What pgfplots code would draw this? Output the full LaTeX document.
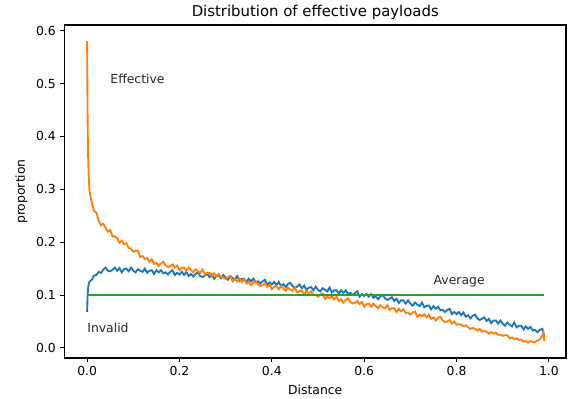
\documentclass[border=0pt]{standalone}
\usepackage{pgfplots}
\pgfplotsset{compat=1.18}
\usepackage{fontspec}
\setmainfont{DejaVu Sans}
\definecolor{mblue}{HTML}{1F77B4}
\definecolor{morange}{HTML}{FF7F0E}
\definecolor{mgreen}{HTML}{2CA02C}
\begin{document}
\begin{tikzpicture}
\useasboundingbox (-52pt,-32.3pt) rectangle (406pt,288.7pt);
\begin{axis}[
  name=ax, at={(0,0)}, anchor=south west,
  scale only axis, width=404.4pt, height=268.5pt,
  xmin=-0.049, xmax=1.037, ymin=-0.019, ymax=0.6105,
  axis lines=box,
  xtick={0,0.2,0.4,0.6,0.8,1.0},
  ytick={0,0.1,0.2,0.3,0.4,0.5,0.6},
  xticklabel style={/pgf/number format/.cd,fixed,fixed zerofill,precision=1},
  yticklabel style={/pgf/number format/.cd,fixed,fixed zerofill,precision=1},
  /pgf/number format/assume math mode=true,
  tick label style={font=\fontsize{10}{12}\selectfont},
  label style={font=\fontsize{10}{12}\selectfont},
  title style={font=\fontsize{12}{14}\selectfont, yshift=-5pt},
  title={Distribution of effective payloads},
  xlabel={Distance}, ylabel={proportion},
  tick align=outside, xtick pos=bottom, ytick pos=left,
  major tick length=3.5pt,
  every tick/.style={black, line width=0.8pt},
  axis line style={black, line width=0.9pt},
  clip=true,
]
% blue (Invalid)
\addplot[mblue, line width=1.5pt] coordinates {
(0,0.068)(0.001,0.098)(0.002,0.112)(0.003,0.118)
(0.005,0.125)(0.010,0.129)(0.015,0.137)(0.020,0.138)(0.025,0.144)(0.030,0.142)(0.035,0.148)(0.040,0.152)(0.045,0.146)(0.050,0.145)
(0.055,0.148)(0.060,0.152)(0.065,0.146)(0.070,0.151)(0.075,0.143)(0.080,0.149)(0.085,0.150)(0.090,0.145)(0.095,0.152)(0.100,0.146)
(0.105,0.143)(0.110,0.149)(0.115,0.146)(0.120,0.144)(0.125,0.150)(0.130,0.142)(0.135,0.146)(0.140,0.147)(0.145,0.140)(0.150,0.147)
(0.155,0.143)(0.160,0.147)(0.165,0.141)(0.170,0.143)(0.175,0.139)(0.180,0.144)(0.185,0.147)(0.190,0.138)(0.195,0.142)(0.200,0.139)
(0.205,0.144)(0.210,0.138)(0.215,0.144)(0.220,0.136)(0.225,0.140)(0.230,0.135)(0.235,0.140)(0.240,0.143)(0.245,0.136)(0.250,0.134)
(0.255,0.137)(0.260,0.140)(0.265,0.134)(0.270,0.139)(0.275,0.131)(0.280,0.136)(0.285,0.137)(0.290,0.132)(0.295,0.138)(0.300,0.133)
(0.305,0.129)(0.310,0.136)(0.315,0.132)(0.320,0.130)(0.325,0.136)(0.330,0.127)(0.335,0.131)(0.340,0.131)(0.345,0.125)(0.350,0.131)
(0.355,0.126)(0.360,0.131)(0.365,0.124)(0.370,0.126)(0.375,0.122)(0.380,0.126)(0.385,0.129)(0.390,0.119)(0.395,0.124)(0.400,0.120)
(0.405,0.125)(0.410,0.119)(0.415,0.125)(0.420,0.117)(0.425,0.121)(0.430,0.115)(0.435,0.121)(0.440,0.123)(0.445,0.117)(0.450,0.114)
(0.455,0.116)(0.460,0.120)(0.465,0.113)(0.470,0.118)(0.475,0.109)(0.480,0.114)(0.485,0.115)(0.490,0.109)(0.495,0.116)(0.500,0.110)
(0.505,0.107)(0.510,0.113)(0.515,0.110)(0.520,0.107)(0.525,0.114)(0.530,0.105)(0.535,0.109)(0.540,0.109)(0.545,0.103)(0.550,0.109)
(0.555,0.104)(0.560,0.109)(0.565,0.102)(0.570,0.104)(0.575,0.100)(0.580,0.104)(0.585,0.107)(0.590,0.097)(0.595,0.102)(0.600,0.098)
(0.605,0.102)(0.610,0.097)(0.615,0.102)(0.620,0.095)(0.625,0.098)(0.630,0.092)(0.635,0.098)(0.640,0.100)(0.645,0.094)(0.650,0.091)
(0.655,0.093)(0.660,0.096)(0.665,0.089)(0.670,0.093)(0.675,0.085)(0.680,0.090)(0.685,0.090)(0.690,0.084)(0.695,0.090)(0.700,0.084)
(0.705,0.080)(0.710,0.086)(0.715,0.082)(0.720,0.079)(0.725,0.086)(0.730,0.077)(0.735,0.080)(0.740,0.080)(0.745,0.073)(0.750,0.079)
(0.755,0.074)(0.760,0.078)(0.765,0.071)(0.770,0.072)(0.775,0.068)(0.780,0.072)(0.785,0.074)(0.790,0.064)(0.795,0.068)(0.800,0.064)
(0.805,0.068)(0.810,0.062)(0.815,0.067)(0.820,0.059)(0.825,0.062)(0.830,0.056)(0.835,0.061)(0.840,0.063)(0.845,0.056)(0.850,0.053)
(0.855,0.055)(0.860,0.058)(0.865,0.051)(0.870,0.055)(0.875,0.047)(0.880,0.052)(0.885,0.052)(0.890,0.046)(0.895,0.052)(0.900,0.046)
(0.905,0.042)(0.910,0.048)(0.915,0.044)(0.920,0.041)(0.925,0.048)(0.930,0.039)(0.935,0.042)(0.940,0.042)(0.945,0.035)(0.950,0.041)
(0.955,0.036)(0.960,0.040)(0.965,0.033)(0.970,0.034)(0.975,0.030)(0.980,0.034)(0.985,0.036)(0.988,0.030)(0.990,0.022)
};
% orange (Effective)
\addplot[morange, line width=1.5pt] coordinates {
(0,0.58)(0.0005,0.50)(0.001,0.44)(0.0015,0.40)(0.002,0.37)(0.003,0.335)(0.004,0.315)(0.005,0.30)(0.0065,0.29)(0.008,0.283)(0.010,0.275)
(0.015,0.259)(0.020,0.256)(0.025,0.241)(0.030,0.232)(0.035,0.235)(0.040,0.227)(0.045,0.220)(0.050,0.223)(0.055,0.211)(0.060,0.211)
(0.065,0.208)(0.070,0.199)(0.075,0.203)(0.080,0.196)(0.085,0.198)(0.090,0.189)(0.095,0.188)(0.100,0.182)(0.105,0.184)(0.110,0.184)
(0.115,0.172)(0.120,0.174)(0.125,0.168)(0.130,0.170)(0.135,0.163)(0.140,0.168)(0.145,0.159)(0.150,0.161)(0.155,0.155)(0.160,0.160)
(0.165,0.163)(0.170,0.156)(0.175,0.153)(0.180,0.155)(0.185,0.158)(0.190,0.152)(0.195,0.156)(0.200,0.147)(0.205,0.152)(0.210,0.152)
(0.215,0.146)(0.220,0.152)(0.225,0.147)(0.230,0.143)(0.235,0.149)(0.240,0.145)(0.245,0.142)(0.250,0.148)(0.255,0.139)(0.260,0.142)
(0.265,0.142)(0.270,0.135)(0.275,0.141)(0.280,0.136)(0.285,0.140)(0.290,0.133)(0.295,0.134)(0.300,0.130)(0.305,0.134)(0.310,0.136)
(0.315,0.126)(0.320,0.130)(0.325,0.126)(0.330,0.131)(0.335,0.125)(0.340,0.130)(0.345,0.122)(0.350,0.125)(0.355,0.119)(0.360,0.124)
(0.365,0.127)(0.370,0.120)(0.375,0.117)(0.380,0.119)(0.385,0.122)(0.390,0.116)(0.395,0.120)(0.400,0.111)(0.405,0.116)(0.410,0.117)
(0.415,0.111)(0.420,0.117)(0.425,0.112)(0.430,0.108)(0.435,0.114)(0.440,0.110)(0.445,0.108)(0.450,0.114)(0.455,0.105)(0.460,0.108)
(0.465,0.108)(0.470,0.101)(0.475,0.108)(0.480,0.103)(0.485,0.107)(0.490,0.100)(0.495,0.101)(0.500,0.097)(0.505,0.101)(0.510,0.103)
(0.515,0.093)(0.520,0.097)(0.525,0.094)(0.530,0.098)(0.535,0.092)(0.540,0.097)(0.545,0.089)(0.550,0.092)(0.555,0.086)(0.560,0.091)
(0.565,0.094)(0.570,0.087)(0.575,0.084)(0.580,0.086)(0.585,0.089)(0.590,0.083)(0.595,0.087)(0.600,0.078)(0.605,0.083)(0.610,0.084)
(0.615,0.078)(0.620,0.084)(0.625,0.079)(0.630,0.075)(0.635,0.081)(0.640,0.077)(0.645,0.075)(0.650,0.081)(0.655,0.072)(0.660,0.075)
(0.665,0.075)(0.670,0.068)(0.675,0.074)(0.680,0.069)(0.685,0.073)(0.690,0.066)(0.695,0.067)(0.700,0.063)(0.705,0.067)(0.710,0.069)
(0.715,0.059)(0.720,0.063)(0.725,0.060)(0.730,0.064)(0.735,0.058)(0.740,0.063)(0.745,0.055)(0.750,0.058)(0.755,0.052)(0.760,0.057)
(0.765,0.059)(0.770,0.052)(0.775,0.049)(0.780,0.050)(0.785,0.053)(0.790,0.046)(0.795,0.050)(0.800,0.044)(0.805,0.045)(0.810,0.044)
(0.815,0.041)(0.820,0.043)(0.825,0.039)(0.830,0.036)(0.835,0.038)(0.840,0.036)(0.845,0.033)(0.850,0.036)(0.855,0.031)(0.860,0.032)
(0.865,0.031)(0.870,0.027)(0.875,0.030)(0.880,0.027)(0.885,0.029)(0.890,0.025)(0.895,0.025)(0.900,0.023)(0.905,0.024)(0.910,0.024)
(0.915,0.018)(0.920,0.020)(0.925,0.017)(0.930,0.018)(0.935,0.015)(0.940,0.016)(0.945,0.012)(0.950,0.013)(0.955,0.010)(0.960,0.013)
(0.965,0.011)(0.970,0.011)(0.975,0.014)(0.980,0.016)(0.985,0.022)(0.988,0.030)(0.990,0.013)
};
% green (Average)
\addplot[mgreen, line width=1.5pt] coordinates {(0,0.1)(0.99,0.1)};
\node[anchor=base west, inner sep=0pt, font=\fontsize{10}{12}\selectfont, text=black!85] at (axis cs:0.05,0.5) {Effective};
\node[anchor=base west, inner sep=0pt, font=\fontsize{10}{12}\selectfont, text=black!85] at (axis cs:0.75,0.12) {Average};
\node[anchor=base west, inner sep=0pt, font=\fontsize{10}{12}\selectfont, text=black!85] at (axis cs:0.0,0.03) {Invalid};
\end{axis}
\end{tikzpicture}
\end{document}
